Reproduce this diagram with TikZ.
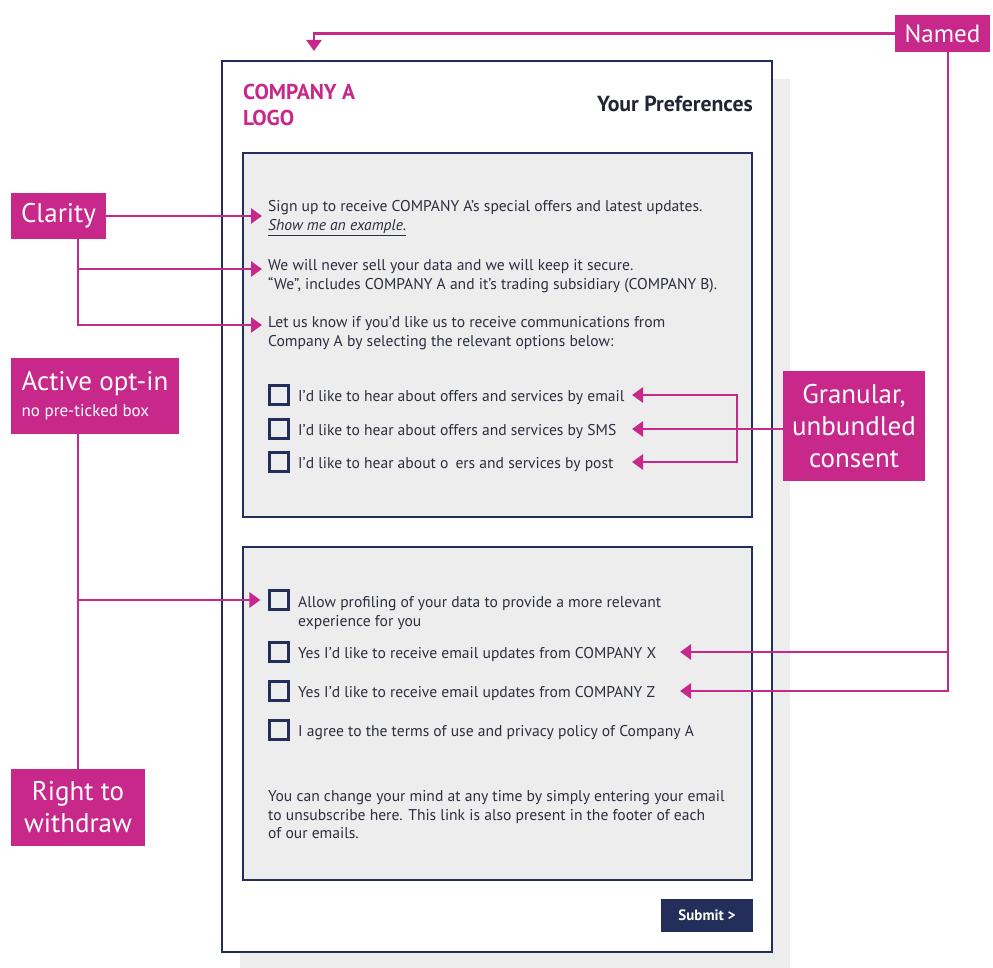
\documentclass[tikz,border=0pt]{standalone}
\usepackage{fontspec}
\setmainfont{PT Sans}
\usetikzlibrary{arrows.meta,positioning}
\definecolor{berry}{HTML}{C8288A}
\definecolor{navy}{HTML}{232F5A}
\definecolor{paper}{HTML}{EDEDED}
\definecolor{ink}{HTML}{2C2E40}

\begin{document}
\begin{tikzpicture}[x=1pt,y=-1pt,
  callout/.style={fill=berry,text=white,inner sep=0pt,align=center,
                  font=\fontsize{27}{32}\selectfont},
  panel/.style={draw=navy,line width=2pt,fill=paper},
  tickbox/.style={draw=navy,line width=2.2pt,minimum size=19pt,inner sep=0pt},
  copy/.style={text=ink,inner sep=0pt,align=left,anchor=west,
               font=\fontsize{15.6}{18.5}\selectfont},
  spine/.style={draw=berry,line width=2.8pt},
  link/.style={spine,-{Triangle[length=11pt,width=15pt]}}]
\useasboundingbox (0,0) rectangle (993,968);

% form sheet and its shadow
\fill[paper] (240,79) rectangle (790,968);
\draw[navy,line width=2pt,fill=white] (222,61) rectangle (772,952);
\draw[panel] (243,153) rectangle (752,517);
\draw[panel] (243,547) rectangle (752,880);

% header
\node[anchor=west,inner sep=0pt,align=left,text=berry,
      font=\bfseries\fontsize{21.5}{26}\selectfont] (logo) at (243,105) {COMPANY A\\LOGO};
\node[anchor=east,inner sep=0pt,text=ink!80!black,
      font=\bfseries\fontsize{21.8}{24}\selectfont] (title) at (753,104) {Your Preferences};

% first panel
\node[copy] (sign) at (268,218) {Sign up to receive COMPANY A’s special offers and latest updates.\\
  \underline{\itshape Show me an example.}};
\node[copy] (weNever) at (268,276) {We will never sell your data and we will keep it secure.\\
  “We”, includes COMPANY A and it’s trading subsidiary (COMPANY B).};
\node[copy] (letUs) at (268,333) {Let us know if you’d like us to receive communications from\\
  Company A by selecting the relevant options below:};

\node[tickbox] (cbEmail) at (279,395) {};
\node[tickbox] (cbSms)   at (279,429) {};
\node[tickbox] (cbPost)  at (279,462) {};
\node[copy] (tEmail) at (298,398) {I’d like to hear about offers and services by email};
\node[copy] (tSms)   at (298,432) {I’d like to hear about offers and services by SMS};
\node[copy] (tPost)  at (298,465) {I’d like to hear about o\kern0.45em ers and services by post};

% second panel
\node[tickbox] (cbProf)  at (279,600) {};
\node[tickbox] (cbX)     at (279,652) {};
\node[tickbox] (cbZ)     at (279,691) {};
\node[tickbox] (cbTerms) at (279,730) {};
\node[copy] (tProf)  at (298,613) {Allow profiling of your data to provide a more relevant\\experience for you};
\node[copy] (tX)     at (298,655) {Yes I’d like to receive email updates from COMPANY X};
\node[copy] (tZ)     at (298,694) {Yes I’d like to receive email updates from COMPANY Z};
\node[copy] (tTerms) at (298,733) {I agree to the terms of use and privacy policy of Company A};
\node[copy] (tChange) at (268,815) {You can change your mind at any time by simply entering your email\\
  to unsubscribe here. This link is also present in the footer of each\\
  of our emails.};

\node[fill=navy,text=white,inner sep=0pt,minimum width=92pt,minimum height=33pt,
      font=\bfseries\fontsize{15}{16}\selectfont] (submit) at (707,915.5) {Submit >};

% callouts
\node[callout,minimum width=95pt,minimum height=46pt] (clarity) at (58.5,216) {Clarity};
\node[callout,minimum width=95pt,minimum height=37pt,
      font=\fontsize{25}{30}\selectfont] (named) at (942.5,33.5) {Named};
\node[callout,minimum width=168pt,minimum height=76pt,align=left] (optin) at (95,396)
  {Active opt-in\\[-6pt]{\fontsize{17}{20}\selectfont no pre-ticked box}};
\node[callout,minimum width=134pt,minimum height=77pt] (withdraw) at (78,807.5) {Right to\\withdraw};
\node[callout,minimum width=142pt,minimum height=110pt] (granular) at (854,426)
  {Granular,\\unbundled\\consent};

% connector tips and bars
\coordinate (spineX) at (78,0);
\coordinate (namedTip) at (314,51);
\coordinate (namedBar) at (948,0);
\coordinate (coTip) at (680,0);
\coordinate (granTip) at (632,0);
\coordinate (granBar) at (737,0);
\path ([xshift=-6pt,yshift=3pt]sign.west) coordinate (signTip);
\path ([xshift=-6pt,yshift=7pt]weNever.west) coordinate (weTip);
\path ([xshift=-6pt,yshift=8pt]letUs.west) coordinate (letTip);
\path ([xshift=-8pt]cbProf.west) coordinate (profTip);

% Named
\draw[link] (named.west) -| (namedTip);
\draw[link] (namedBar |- named.south) |- (coTip |- cbZ);
\draw[link] (namedBar |- cbX) -- (coTip |- cbX);

% Clarity
\draw[link] (clarity.east) -- (clarity.east -| signTip);
\draw[link] (spineX |- clarity.south) |- (letTip);
\draw[link] (spineX |- weTip) -- (weTip);

% Granular
\draw[link] (granular.west |- cbSms) -- (granTip |- cbSms);
\draw[spine,{Triangle[length=11pt,width=15pt]}-{Triangle[length=11pt,width=15pt]}]
  (granTip |- cbEmail) -| (granBar |- cbPost) -- (granTip |- cbPost);

% Active opt-in / right to withdraw
\draw[spine] (spineX |- optin.south) -- (spineX |- withdraw.north);
\draw[link] (spineX |- cbProf) -- (profTip);
\end{tikzpicture}
\end{document}
